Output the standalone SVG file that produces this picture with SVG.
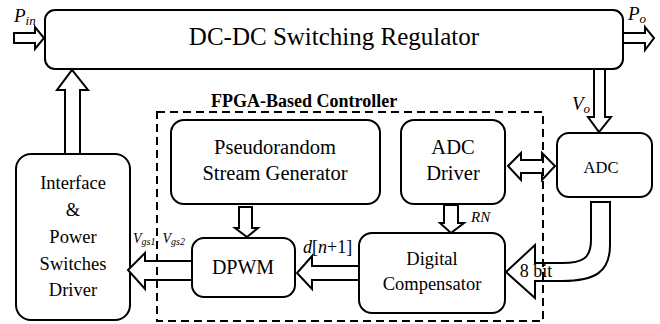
<svg xmlns="http://www.w3.org/2000/svg" width="660" height="324" viewBox="0 0 660 324">
<style>
.box{fill:#fff;stroke:#000;stroke-width:2}
.arr{fill:#fff;stroke:#000;stroke-width:2;stroke-linejoin:miter}
text{font-family:"Liberation Serif","Times New Roman","DejaVu Serif",serif;fill:#000}
.t{text-anchor:middle}
.i{font-style:italic}
.dash{fill:none;stroke:#000;stroke-width:2;stroke-dasharray:8 5}
</style>
<rect width="660" height="324" fill="#fff"/>
<g id="regulator">
<rect class="box" x="45" y="10" width="578" height="59" rx="10"/>
<text class="t" x="334" y="45" font-size="25">DC-DC Switching Regulator</text>
</g>
<g id="interface">
<rect class="box" x="16" y="154" width="114" height="166" rx="15"/>
<text class="t" x="73" y="189" font-size="18.5">Interface</text>
<text class="t" x="73" y="216" font-size="18.5">&amp;</text>
<text class="t" x="73" y="243" font-size="18.5">Power</text>
<text class="t" x="73" y="270" font-size="18.5">Switches</text>
<text class="t" x="73" y="296" font-size="18.5">Driver</text>
</g>
<g id="prng">
<rect class="box" x="171" y="120" width="209" height="84" rx="13"/>
<text class="t" x="275" y="154" font-size="20.5">Pseudorandom</text>
<text class="t" x="275" y="180" font-size="20.5">Stream Generator</text>
</g>
<g id="adcdriver">
<rect class="box" x="401" y="120" width="104" height="84" rx="13"/>
<text class="t" x="453" y="154" font-size="20.5">ADC</text>
<text class="t" x="453" y="180" font-size="20.5">Driver</text>
</g>
<g id="adc">
<rect class="box" x="557" y="133" width="95" height="64" rx="12"/>
<text class="t" x="601" y="173" font-size="16.5">ADC</text>
</g>
<g id="dpwm">
<rect class="box" x="192" y="238" width="103" height="59" rx="12"/>
<text class="t" x="243" y="274" font-size="20">DPWM</text>
</g>
<g id="compensator">
<rect class="box" x="359" y="233" width="146" height="80" rx="13"/>
<text class="t" x="432" y="265" font-size="18.5">Digital</text>
<text class="t" x="432" y="290" font-size="18.5">Compensator</text>
</g>
<g id="connectors">
<polygon class="arr" points="14,33 35,33 35,27 44,38 35,49 35,43 14,43"/>
<polygon class="arr" points="623,33 645,33 645,27 654,38 645,50 645,43 623,43"/>
<polygon class="arr" points="65,154 65,90 57,90 72,70 88,90 80,90 80,154"/>
<polygon class="arr" points="594,69 605,69 605,117 611,117 599,132 588,117 594,117"/>
<polygon class="arr" points="192,261 145,261 145,253 128,270 145,289 145,280 192,280"/>
<polygon class="arr" points="359,266 312,266 312,256 297,273 312,289 312,280 359,280"/>
<polygon class="arr" points="239,207 252,207 252,228 258,228 247,237 235,228 239,228"/>
<polygon class="arr" points="444,205 458,205 458,223 464,223 451,233 440,223 444,223"/>
<polygon class="arr" points="508,166 521,153 521,160 542,160 542,153 555,166 542,180 542,173 521,173 521,180"/>
<path class="arr" d="M591 202 L610 202 L610 245 C610 272 595 281 562 281 L535 281 L535 298 L506 272 L535 245 L535 263 L562 263 C583 263 591 258 591 240 Z"/>
<text class="i" x="14" y="22" font-size="19">P<tspan font-size="13" dy="3">in</tspan></text>
<text class="i" x="628" y="20" font-size="19">P<tspan font-size="13" dy="3">o</tspan></text>
<text class="i" x="572" y="110" font-size="19">V<tspan font-size="13" dy="3">o</tspan></text>
<text class="i" x="133" y="243" font-size="14">V<tspan font-size="10" dy="2">gs1</tspan><tspan dy="-2">, V</tspan><tspan font-size="10" dy="2">gs2</tspan></text>
<text class="i" x="471" y="222" font-size="15">RN</text>
<text x="303" y="253" font-size="18"><tspan font-style="italic">d</tspan>[<tspan font-style="italic">n</tspan>+1]</text>
<text class="t" x="536" y="277" font-size="18">8 bit</text>
</g>
<g id="fpga">
<rect class="dash" x="157" y="112" width="386" height="209"/>
<text x="211" y="107" font-size="18" font-weight="bold">FPGA-Based Controller</text>
</g>
</svg>
